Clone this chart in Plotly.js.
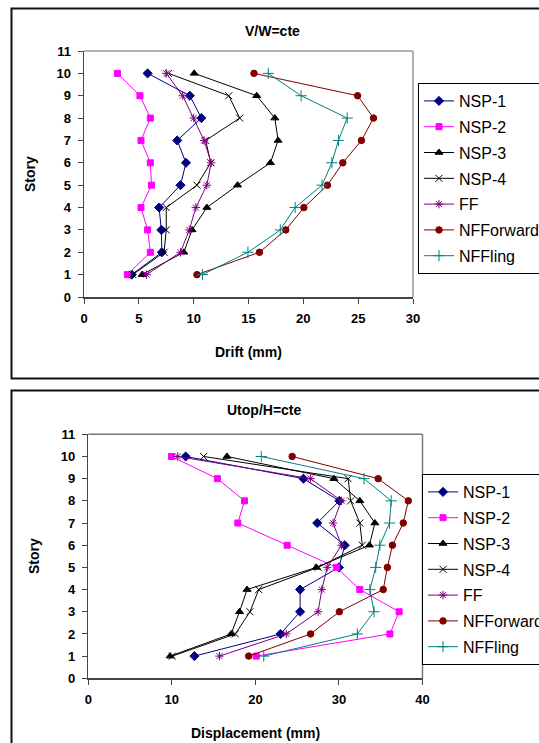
<!DOCTYPE html>
<html>
<head>
<meta charset="utf-8">
<script src="https://cdn.plot.ly/plotly-3.0.1.min.js"></script>
<style>html,body{margin:0;padding:0;background:#fff;}#chart{width:539px;height:743px;}</style>
</head>
<body>
<div id="chart"></div>
<script>
// Stories (y values)
var stories = [1, 2, 3, 4, 5, 6, 7, 8, 9, 10];
var seriesNames = ["NSP-1", "NSP-2", "NSP-3", "NSP-4", "FF", "NFForward", "NFFling"];

// Top chart: V/W=cte, Drift (mm)
var nsp1Drift = [4.35, 7.1, 7.05, 6.85, 8.8, 9.3, 8.5, 10.7, 9.65, 5.8];
var nsp2Drift = [3.95, 6.05, 5.8, 5.2, 6.15, 6.05, 5.2, 6.05, 5.1, 3.05];
var nsp3Drift = [5.3, 9.1, 9.85, 11.2, 14.0, 17.0, 17.7, 17.4, 15.75, 10.05];
var nsp4Drift = [4.45, 7.3, 7.5, 7.5, 10.3, 11.55, 11.1, 14.2, 13.2, 7.7];
var ffDrift = [5.7, 8.8, 9.6, 10.2, 11.2, 11.6, 10.95, 10.0, 9.0, 7.5];
var nfForwardDrift = [10.3, 16.0, 18.4, 20.05, 22.2, 23.6, 25.3, 26.4, 24.95, 15.5];
var nfFlingDrift = [10.8, 14.95, 17.9, 19.25, 21.7, 22.6, 23.2, 24.0, 19.8, 16.8];

// Bottom chart: Utop/H=cte, Displacement (mm)
var nsp1Disp = [12.7, 23.0, 25.35, 25.35, 30.0, 30.7, 27.4, 30.05, 25.75, 11.65];
var nsp2Disp = [20.1, 36.1, 37.2, 32.5, 29.7, 23.8, 17.9, 18.7, 15.45, 9.95];
var nsp3Disp = [9.8, 17.1, 18.1, 19.0, 27.3, 33.65, 34.3, 32.5, 29.4, 16.6];
var nsp4Disp = [10.05, 17.6, 19.35, 20.4, 27.5, 32.8, 32.5, 31.4, 31.1, 13.8];
var ffDisp = [15.7, 23.7, 27.5, 27.95, 28.6, 30.3, 29.3, 30.3, 26.6, 10.7];
var nfForwardDisp = [19.2, 26.6, 30.05, 35.3, 35.8, 36.4, 37.7, 38.3, 34.7, 24.4];
var nfFlingDisp = [21.0, 32.2, 34.2, 33.7, 34.4, 34.9, 36.05, 36.25, 33.0, 20.7];

var driftTicks = [0, 5, 10, 15, 20, 25, 30];
var dispTicks = [0, 10, 20, 30, 40];
var storyTicks = [0, 1, 2, 3, 4, 5, 6, 7, 8, 9, 10, 11];

var topSeries = [nsp1Drift, nsp2Drift, nsp3Drift, nsp4Drift, ffDrift, nfForwardDrift, nfFlingDrift];
var botSeries = [nsp1Disp, nsp2Disp, nsp3Disp, nsp4Disp, ffDisp, nfForwardDisp, nfFlingDisp];

var styles = [
  {color: "#000080", symbol: "diamond", size: 7, lw: 1},
  {color: "#ff00ff", symbol: "square", size: 6, lw: 1},
  {color: "#000000", symbol: "triangle-up", size: 7, lw: 1},
  {color: "#000000", symbol: "x-thin-open", size: 7, lw: 1},
  {color: "#800080", symbol: "asterisk-open", size: 7, lw: 1},
  {color: "#800000", symbol: "circle", size: 6.5, lw: 1},
  {color: "#008080", symbol: "cross-thin-open", size: 8, lw: 1}
];

var traces = [];
function addTraces(series, xa, ya, leg, prefix) {
  for (var i = 0; i < series.length; i++) {
    var s = styles[i];
    traces.push({
      type: "scatter", mode: "lines+markers",
      x: series[i], y: stories, name: seriesNames[i],
      xaxis: xa, yaxis: ya, legend: leg, legendgroup: prefix + i,
      line: {color: s.color, width: s.lw},
      marker: {color: s.color, symbol: s.symbol, size: s.size, line: {color: s.color, width: 1}},
      cliponaxis: false
    });
  }
}
addTraces(topSeries, "x", "y", "legend", "t");
addTraces(botSeries, "x2", "y2", "legend2", "b");

var W = 539, H = 743;
function px(v) { return v / W; }
function py(v) { return 1 - v / H; }

var tickFont = {family: "Liberation Sans, Arial, sans-serif", size: 13, color: "#000", weight: "bold"};
var axisCommon = {
  showgrid: false, zeroline: false, showline: true, linecolor: "#444", linewidth: 1.5,
  ticks: "outside", ticklen: 5, tickwidth: 1, tickcolor: "#444",
  tickfont: tickFont, ticklabelstandoff: 4, fixedrange: true
};
function ax(extra) { var o = {}; for (var k in axisCommon) o[k] = axisCommon[k]; for (var k2 in extra) o[k2] = extra[k2]; return o; }

var legendCommon = {
  font: {family: "Liberation Sans, Arial, sans-serif", size: 16, color: "#000"},
  bordercolor: "#000", borderwidth: 1, bgcolor: "#fff",
  xanchor: "left", yanchor: "top", traceorder: "grouped", tracegroupgap: 2
};
function lg(extra) { var o = {}; for (var k in legendCommon) o[k] = legendCommon[k]; for (var k2 in extra) o[k2] = extra[k2]; return o; }

var bold = {family: "Liberation Sans, Arial, sans-serif", size: 14, color: "#000", weight: "bold"};

var layout = {
  width: W, height: H,
  margin: {l: 0, r: 0, t: 0, b: 0, autoexpand: false},
  paper_bgcolor: "#fff", plot_bgcolor: "#fff",
  showlegend: true,
  xaxis: ax({domain: [px(84), px(413)], range: [0, 30], tickvals: driftTicks, anchor: "y"}),
  yaxis: ax({domain: [py(297), py(51)], range: [0, 11], tickvals: storyTicks, anchor: "x"}),
  xaxis2: ax({domain: [px(88.3), px(422.5)], range: [0, 40], tickvals: dispTicks, anchor: "y2"}),
  yaxis2: ax({domain: [py(678.3), py(434.3)], range: [0, 11], tickvals: storyTicks, anchor: "x2"}),
  legend: lg({x: px(418), y: py(83)}),
  legend2: lg({x: px(422), y: py(474)}),
  shapes: [
    // outer chart boxes
    {type: "rect", xref: "paper", yref: "paper", x0: px(11.5), x1: 1.05, y0: py(378.5), y1: py(8.5), line: {color: "#111", width: 2}, layer: "below"},
    {type: "rect", xref: "paper", yref: "paper", x0: px(11.5), x1: 1.05, y0: -0.05, y1: py(390.5), line: {color: "#111", width: 2}, layer: "below"},
    // gray top/right plot frame
    {type: "line", xref: "x domain", yref: "y domain", x0: 0, x1: 1, y0: 1, y1: 1, line: {color: "#999", width: 1.5}},
    {type: "line", xref: "x domain", yref: "y domain", x0: 1, x1: 1, y0: 0, y1: 1, line: {color: "#999", width: 1.5}},
    {type: "line", xref: "x2 domain", yref: "y2 domain", x0: 0, x1: 1, y0: 1, y1: 1, line: {color: "#777", width: 1.5}},
    {type: "line", xref: "x2 domain", yref: "y2 domain", x0: 1, x1: 1, y0: 0, y1: 1, line: {color: "#777", width: 1.5}}
  ],
  annotations: [
    {text: "V/W=cte", xref: "paper", yref: "paper", x: px(273), y: py(31), xanchor: "center", yanchor: "middle", showarrow: false, font: bold},
    {text: "Drift (mm)", xref: "paper", yref: "paper", x: px(248.5), y: py(351.5), xanchor: "center", yanchor: "middle", showarrow: false, font: bold},
    {text: "Story", xref: "paper", yref: "paper", x: px(30), y: py(174), xanchor: "center", yanchor: "middle", textangle: -90, showarrow: false, font: bold},
    {text: "Utop/H=cte", xref: "paper", yref: "paper", x: px(264), y: py(410), xanchor: "center", yanchor: "middle", showarrow: false, font: bold},
    {text: "Displacement (mm)", xref: "paper", yref: "paper", x: px(255.5), y: py(733), xanchor: "center", yanchor: "middle", showarrow: false, font: bold},
    {text: "Story", xref: "paper", yref: "paper", x: px(34), y: py(556), xanchor: "center", yanchor: "middle", textangle: -90, showarrow: false, font: bold}
  ]
};

Plotly.newPlot("chart", traces, layout, {displayModeBar: false, staticPlot: true});
</script>
</body>
</html>
